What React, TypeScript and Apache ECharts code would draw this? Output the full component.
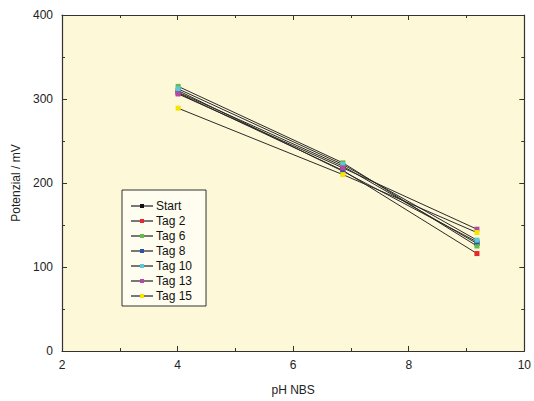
import React, { useEffect, useRef } from "react";
import * as echarts from "echarts";

const phValues = [4.01, 6.86, 9.18];
const seriesNames = ["Start", "Tag 2", "Tag 6", "Tag 8", "Tag 10", "Tag 13", "Tag 15"];
const startVals = [308, 220, 128];
const tag2Vals = [307, 215, 116];
const tag6Vals = [315, 224, 125];
const tag8Vals = [310, 214, 130];
const tag10Vals = [312, 222, 132];
const tag13Vals = [306, 218, 145];
const tag15Vals = [289, 210, 141];
const markerColors = ["#111111", "#e8262b", "#66bb4a", "#2d53a3", "#5cc8dc", "#b04aa2", "#f4e600"];

const allVals = [startVals, tag2Vals, tag6Vals, tag8Vals, tag10Vals, tag13Vals, tag15Vals];

export default function App() {
  const ref = useRef<HTMLDivElement>(null);
  useEffect(() => {
    document.body.style.margin = "0";
    if (!ref.current) return;
    const chart = echarts.init(ref.current, null, { renderer: "svg" });
    const font = "'Liberation Sans', Arial, sans-serif";
    const axisCommon = {
      axisLine: { show: true, onZero: false, lineStyle: { color: "#333", width: 1.2 } },
      axisTick: { show: true, inside: true, length: 5, lineStyle: { color: "#333" } },
      minorTick: { show: true, splitNumber: 2, length: 3, lineStyle: { color: "#333" } },
      splitLine: { show: false },
      minorSplitLine: { show: false },
    };
    chart.setOption({
      animation: false,
      backgroundColor: "#ffffff",
      textStyle: { fontFamily: font },
      grid: {
        left: 62,
        right: 8,
        top: 15,
        bottom: 45,
        show: true,
        backgroundColor: "#fdf8d7",
        borderWidth: 0,
      },
      xAxis: [
        {
          type: "value",
          min: 2,
          max: 10,
          interval: 2,
          position: "bottom",
          name: "pH NBS",
          nameLocation: "middle",
          nameGap: 33,
          nameTextStyle: { color: "#222", fontSize: 12, fontFamily: font },
          axisLabel: { color: "#222", fontSize: 12, margin: 8, fontFamily: font },
          ...axisCommon,
        },
        {
          type: "value",
          min: 2,
          max: 10,
          interval: 2,
          position: "top",
          axisLabel: { show: false },
          ...axisCommon,
        },
      ],
      yAxis: [
        {
          type: "value",
          min: 0,
          max: 400,
          interval: 100,
          position: "left",
          name: "Potenzial / mV",
          nameLocation: "middle",
          nameGap: 40,
          nameTextStyle: { color: "#222", fontSize: 12, fontFamily: font },
          axisLabel: { color: "#222", fontSize: 12, margin: 9, fontFamily: font },
          ...axisCommon,
        },
        {
          type: "value",
          min: 0,
          max: 400,
          interval: 100,
          position: "right",
          axisLabel: { show: false },
          ...axisCommon,
        },
      ],
      legend: {
        show: true,
        orient: "vertical",
        left: 122,
        top: 190,
        width: 76,
        padding: [10, 14, 4, 8],
        itemWidth: 22,
        itemHeight: 5,
        itemGap: 3,
        backgroundColor: "#fffdf0",
        borderColor: "#333",
        borderWidth: 1,
        lineStyle: { color: "#777" },
        textStyle: { color: "#111", fontSize: 12, fontFamily: font, padding: [0, 0, 0, -2] },
        data: seriesNames,
      },
      series: seriesNames.map((name, i) => ({
        name,
        type: "line",
        xAxisIndex: 0,
        yAxisIndex: 0,
        data: phValues.map((x, j) => [x, allVals[i][j]]),
        symbol: "rect",
        symbolSize: 5,
        lineStyle: { color: "#2a2a2a", width: 1 },
        itemStyle: { color: markerColors[i], borderWidth: 0 },
        emphasis: { disabled: true },
      })),
    });
    return () => chart.dispose();
  }, []);
  return <div ref={ref} style={{ width: 534, height: 401 }} />;
}
